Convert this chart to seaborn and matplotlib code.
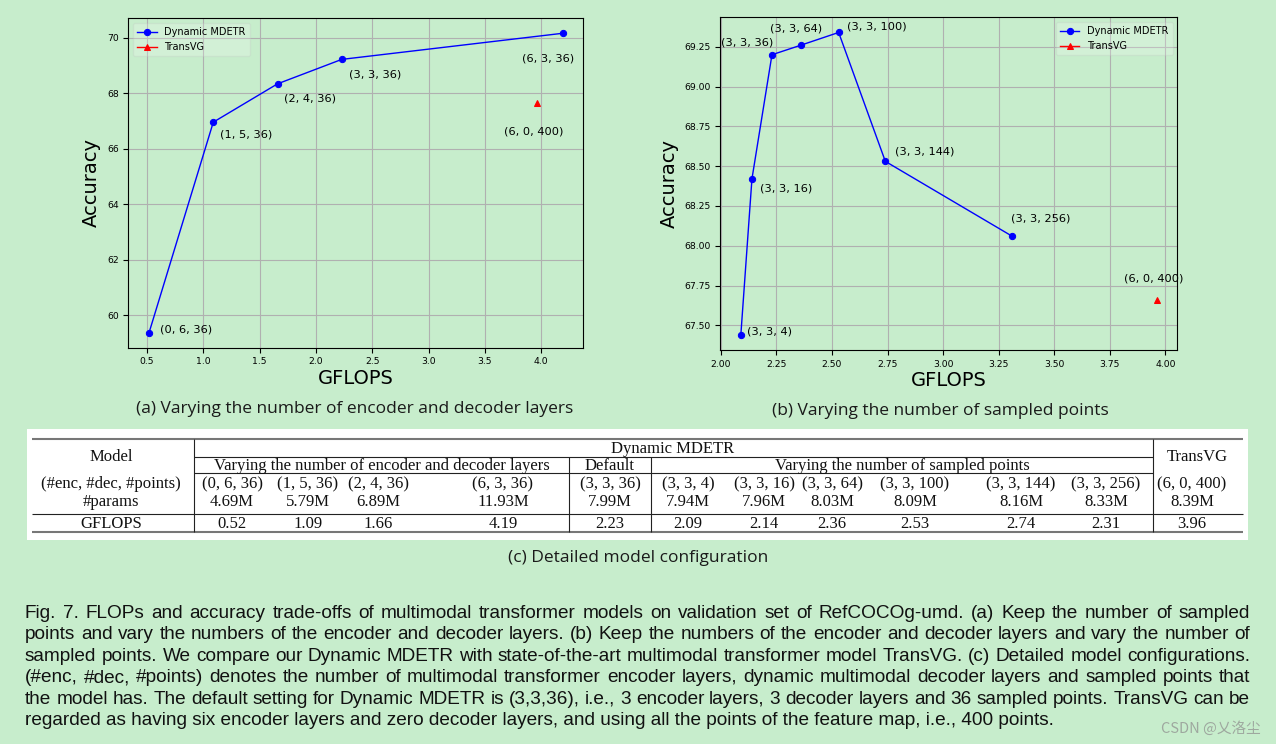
import matplotlib
matplotlib.use("Agg")
import matplotlib.pyplot as plt
from matplotlib.ticker import MultipleLocator
import seaborn as sns
import pandas as pd

BG = "#c7edcc"

# (a) varying encoder / decoder layers
layer_gflops = [0.52, 1.09, 1.66, 2.23, 4.19]
layer_acc = [59.38, 66.96, 68.34, 69.22, 70.16]
layer_labels = ["(0, 6, 36)", "(1, 5, 36)", "(2, 4, 36)", "(3, 3, 36)", "(6, 3, 36)"]

# (b) varying sampled points
point_gflops = [2.09, 2.14, 2.23, 2.36, 2.53, 2.74, 3.31]
point_acc = [67.44, 68.42, 69.20, 69.26, 69.34, 68.53, 68.06]
point_labels = ["(3, 3, 4)", "(3, 3, 16)", "(3, 3, 36)", "(3, 3, 64)",
                "(3, 3, 100)", "(3, 3, 144)", "(3, 3, 256)"]

transvg_gflops = [3.96]
transvg_acc = [67.66]
transvg_label = "(6, 0, 400)"

# (c) table
tab_configs = ["(0, 6, 36)", "(1, 5, 36)", "(2, 4, 36)", "(6, 3, 36)", "(3, 3, 36)",
               "(3, 3, 4)", "(3, 3, 16)", "(3, 3, 64)", "(3, 3, 100)", "(3, 3, 144)",
               "(3, 3, 256)", "(6, 0, 400)"]
tab_params = ["4.69M", "5.79M", "6.89M", "11.93M", "7.99M", "7.94M", "7.96M",
              "8.03M", "8.09M", "8.16M", "8.33M", "8.39M"]
tab_gflops = ["0.52", "1.09", "1.66", "4.19", "2.23", "2.09", "2.14", "2.36",
              "2.53", "2.74", "2.31", "3.96"]

caption_lines = [
    "Fig. 7. FLOPs and accuracy trade-offs of multimodal transformer models on validation set of RefCOCOg-umd. (a) Keep the number of sampled",
    "points and vary the numbers of the encoder and decoder layers. (b) Keep the numbers of the encoder and decoder layers and vary the number of",
    "sampled points. We compare our Dynamic MDETR with state-of-the-art multimodal transformer model TransVG. (c) Detailed model configurations.",
    "(#enc, #dec, #points) denotes the number of multimodal transformer encoder layers, dynamic multimodal decoder layers and sampled points that",
    "the model has. The default setting for Dynamic MDETR is (3,3,36), i.e., 3 encoder layers, 3 decoder layers and 36 sampled points. TransVG can be",
    "regarded as having six encoder layers and zero decoder layers, and using all the points of the feature map, i.e., 400 points.",
]

fig = plt.figure(figsize=(12.76, 7.44), dpi=100, facecolor=BG)
ax1 = fig.add_axes([0.1006, 0.5327, 0.3566, 0.4427])
ax2 = fig.add_axes([0.5643, 0.5296, 0.3584, 0.4471])


def panel(ax, gx, acc, labels, offs, tv_off, loc, xstep, ystep):
    ax.set_facecolor(BG)
    df = pd.DataFrame({"GFLOPS": gx, "Accuracy": acc})
    sns.lineplot(data=df, x="GFLOPS", y="Accuracy", ax=ax, color="b", marker="o",
                 markersize=4.5, markeredgecolor="b", linewidth=1.0,
                 label="Dynamic MDETR", sort=False, errorbar=None)
    sns.lineplot(x=transvg_gflops, y=transvg_acc, ax=ax, color="r", marker="^",
                 markersize=4.5, markeredgecolor="r", linewidth=1.0,
                 label="TransVG", errorbar=None)
    for x, y, s, (dx, dy, ha) in zip(gx, acc, labels, offs):
        ax.annotate(s, (x, y), xytext=(dx, dy), textcoords="offset pixels",
                    ha=ha, va="center", fontsize=8.2)
    dx, dy, ha = tv_off
    ax.annotate(transvg_label, (transvg_gflops[0], transvg_acc[0]), xytext=(dx, dy),
                textcoords="offset pixels", ha=ha, va="center", fontsize=8.2)
    ax.grid(True, color="#b0b0b0", linewidth=0.8)
    ax.xaxis.set_major_locator(MultipleLocator(xstep))
    ax.yaxis.set_major_locator(MultipleLocator(ystep))
    ax.tick_params(labelsize=6.7)
    ax.set_xlabel("GFLOPS", fontsize=14, labelpad=2)
    ax.set_ylabel("Accuracy", fontsize=14)
    ax.legend(loc=loc, fontsize=7, facecolor="white", framealpha=0.2,
              edgecolor="#bbbbbb")


panel(ax1, layer_gflops, layer_acc, layer_labels,
      [(11.4, 3, "left"), (6.8, -12.4, "left"), (6.1, -14.7, "left"),
       (6.8, -15, "left"), (-14.5, -25.4, "center")],
      (-2.6, -29, "center"), "upper left", 0.5, 2)
panel(ax2, point_gflops, point_acc, point_labels,
      [(6.5, 3.8, "left"), (8, -9.5, "left"), (-24.7, 12.5, "center"),
       (-4.3, 17, "center"), (8.4, 6.3, "left"), (9.8, 10, "left"),
       (-0.7, 18, "left")],
      (-3, 21.4, "center"), "upper right", 0.25, 0.25)

# overlay in pixel coordinates for captions and table
ov = fig.add_axes([0, 0, 1, 1])
ov.set_xlim(0, 1276)
ov.set_ylim(744, 0)
ov.axis("off")

sub_font = dict(family="Open Sans", fontsize=12.5, color="#1a1a1a", ha="center", va="baseline")
ov.text(355, 413, "(a) Varying the number of encoder and decoder layers", **sub_font)
ov.text(940, 415, "(b) Varying the number of sampled points", **sub_font)
ov.text(638, 562, "(c) Detailed model configuration", **sub_font)

# table
ov.add_patch(plt.Rectangle((27, 429), 1221, 111, facecolor="white", edgecolor="none"))
ov.hlines([439, 532.3], 31.7, 1243, color="#777777", lw=1.5)
ov.hlines([514], 31.7, 1243, color="#222222", lw=0.8)
ov.hlines([456.5, 473], 194, 1153.3, color="#222222", lw=0.8)
ov.vlines([194, 1153.3], 439, 532.3, color="#222222", lw=0.8)
ov.vlines([569.3, 650.7], 456.5, 532.3, color="#222222", lw=0.8)

tf = dict(family="Liberation Serif", fontsize=12, color="#111111", ha="center", va="baseline")
col_x = [232, 308, 378, 503, 610, 688, 764, 832, 915, 1021, 1106, 1192]
ov.text(111, 461, "Model", **tf)
ov.text(673, 453, "Dynamic MDETR", **tf)
ov.text(1197, 461, "TransVG", **tf)
ov.text(382, 470, "Varying the number of encoder and decoder layers", **tf)
ov.text(610, 470, "Default", **tf)
ov.text(902, 470, "Varying the number of sampled points", **tf)
ov.text(111, 488, "(#enc, #dec, #points)", **tf)
ov.text(111, 506.5, "#params", **tf)
ov.text(111, 527.5, "GFLOPS", **tf)
for x, c, p, g in zip(col_x, tab_configs, tab_params, tab_gflops):
    ov.text(x, 488, c, **tf)
    ov.text(x, 506.5, p, **tf)
    ov.text(x, 527.5, g, **tf)

# justified caption
renderer = fig.canvas.get_renderer()
probe = ov.text(0, 0, caption_lines[-1], family="Liberation Sans", fontsize=12)
w = probe.get_window_extent(renderer).width
probe.remove()
cap_size = 12 * 1035 / w
x0, x1 = 25, 1250
for i, line in enumerate(caption_lines):
    yb = 617.7 + i * 21.46
    if i == len(caption_lines) - 1:
        ov.text(x0, yb, line, family="Liberation Sans", fontsize=cap_size,
                color="#111111", va="baseline")
        continue
    words = line.split()
    texts = [ov.text(0, yb, wd, family="Liberation Sans", fontsize=cap_size,
                     color="#111111", va="baseline") for wd in words]
    widths = [t.get_window_extent(renderer).width for t in texts]
    gap = (x1 - x0 - sum(widths)) / (len(words) - 1)
    x = x0
    for t, wd in zip(texts, widths):
        t.set_x(x)
        x += wd + gap

ov.text(1261, 733, "CSDN @乂洛尘", family=["Noto Sans CJK SC", "DejaVu Sans"],
        fontsize=10.5, color="#9ea89f", ha="right", va="baseline")

fig.savefig("out.png", dpi=100, facecolor=BG)
